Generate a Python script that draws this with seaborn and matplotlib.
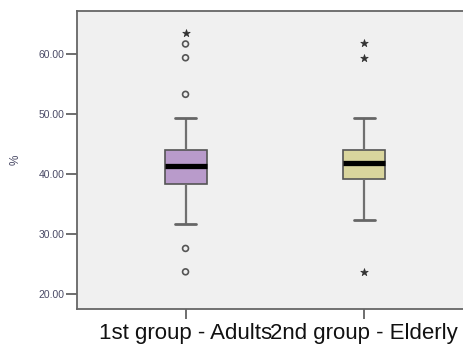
import matplotlib
matplotlib.use("Agg")
import matplotlib.pyplot as plt
import seaborn as sns
import pandas as pd

# category names
groups = ["1st group - Adults", "2nd group - Elderly"]

adults_core = [31.6, 34.5, 36.8, 38.3, 39.0, 39.8, 40.5, 41.0, 41.4,
               41.9, 42.5, 43.0, 43.6, 44.1, 49.4]
elderly_core = [32.4, 36.0, 39.2, 40.0, 40.8, 41.8, 42.6, 43.3, 44.1, 49.3]

# outliers: circles (mild) and stars (extreme)
adults_mild = [23.7, 27.6, 53.3, 59.4, 61.7]
adults_extreme = [63.55]
elderly_mild = []
elderly_extreme = [23.7, 59.3, 61.8]

box_colors = ["#B99BCB", "#D9D59D"]

df = pd.DataFrame({
    "group": [groups[0]] * (len(adults_core) + len(adults_mild) + len(adults_extreme))
             + [groups[1]] * (len(elderly_core) + len(elderly_mild) + len(elderly_extreme)),
    "pct": adults_core + adults_mild + adults_extreme
           + elderly_core + elderly_mild + elderly_extreme,
})

mild = pd.DataFrame({
    "pos": [0] * len(adults_mild) + [1] * len(elderly_mild),
    "pct": adults_mild + elderly_mild,
})
extreme = pd.DataFrame({
    "pos": [0] * len(adults_extreme) + [1] * len(elderly_extreme),
    "pct": adults_extreme + elderly_extreme,
})

sns.set_style("white")
plt.rcParams["font.family"] = ["Liberation Sans", "DejaVu Sans"]

fig = plt.figure(figsize=(4.63, 3.45), dpi=100)
ax = fig.add_axes([77 / 463, 36 / 345, (463 - 77) / 463, 298 / 345])
ax.set_facecolor("#F0F0F0")

sns.boxplot(data=df, x="group", y="pct", hue="group", palette=box_colors,
            order=groups, hue_order=groups, width=0.235, showfliers=False,
            saturation=1, legend=False, linecolor="#555555", linewidth=1.2,
            medianprops={"color": "black", "linewidth": 3.8},
            whiskerprops={"color": "#707070", "linewidth": 1.6},
            capprops={"color": "#666666", "linewidth": 2.0},
            ax=ax)

sns.scatterplot(data=mild, x="pos", y="pct", marker="o", s=18,
                facecolor="none", edgecolor="#555555", linewidth=1.2, ax=ax)
sns.scatterplot(data=extreme, x="pos", y="pct", marker="*", s=32,
                color="#333333", edgecolor="#333333", linewidth=0.5, ax=ax)

ax.set_xlim(-0.607, 1.552)
ax.set_ylim(17.5, 67.2)
ax.set_yticks([20, 30, 40, 50, 60])
ax.set_yticklabels([f"{v:.2f}" for v in [20, 30, 40, 50, 60]],
                   fontsize=7.5, color="#4A4A66")
ax.set_xticks([0, 1])
ax.set_xticklabels(groups, fontsize=16, color="#111111")
ax.set_xlabel("")
ax.set_ylabel("%", fontsize=8.5, color="#4A4A66", labelpad=12)

ax.tick_params(axis="y", direction="out", length=8, width=1.2,
               color="#555555", left=True, pad=1)
ax.tick_params(axis="x", direction="out", length=7, width=1.2,
               color="#555555", bottom=True, pad=3)

for side in ["left", "top", "bottom"]:
    ax.spines[side].set_color("#666666")
    ax.spines[side].set_linewidth(1.3)
ax.spines["right"].set_visible(False)

fig.savefig("out.png", dpi=100)
